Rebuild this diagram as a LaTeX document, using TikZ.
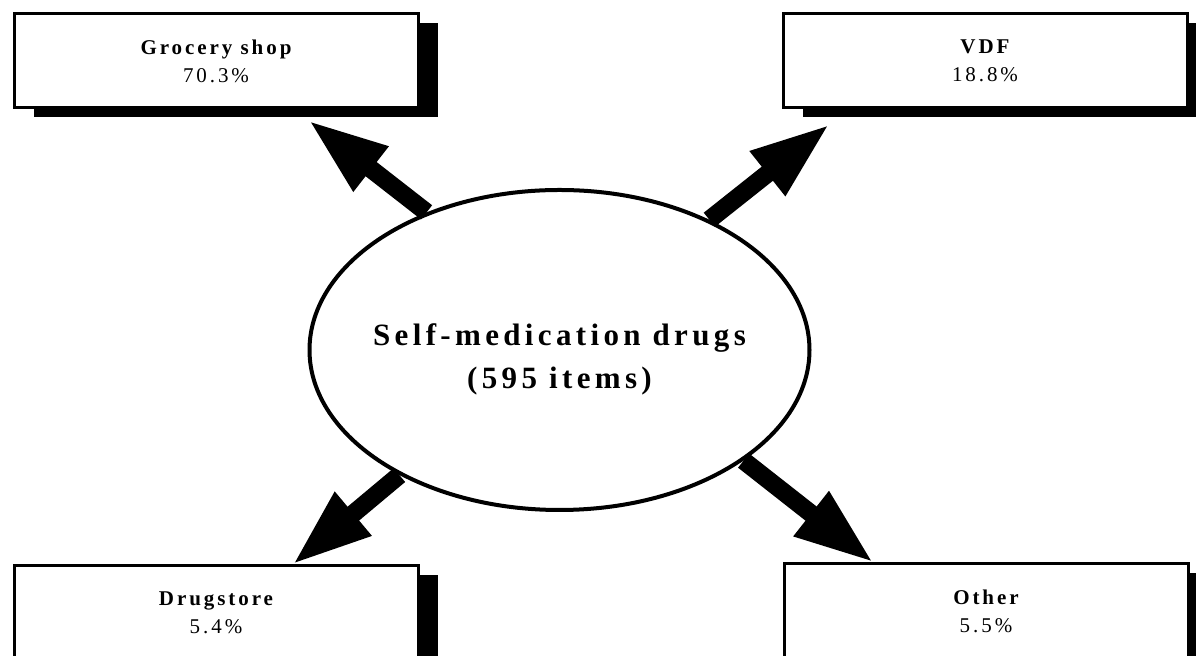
\documentclass[tikz,border=0pt]{standalone}
\usepackage{fontspec}
\setmainfont{Liberation Serif}
\newfontfamily\spaced[LetterSpace=14]{Liberation Serif}
\usetikzlibrary{shapes.geometric, arrows.meta, shadows}
\tikzset{
	outlet/.style={draw, line width=1.5pt, fill=white, minimum width=202pt, minimum height=47pt,
		inner sep=0pt, align=center, font=\spaced\fontsize{10.5}{14}\selectfont,
		drop shadow={shadow xshift=10pt, shadow yshift=-4.5pt, fill=black, opacity=1}},
	drugs/.style={ellipse, draw, line width=2pt, fill=white, minimum width=250pt, minimum height=160pt,
		inner xsep=-15pt, inner ysep=0pt, align=center, font=\spaced\fontsize{15.5}{21.5}\selectfont\bfseries},
	fat/.style={line width=9pt, -{Triangle[length=40pt, width=26pt]}}
}

\begin{document}
\begin{tikzpicture}[x=0.5pt, y=-0.5pt]
		\useasboundingbox (0,0) rectangle (1196,656);
		\clip (0,0) rectangle (1196,656);
		% Outlets
		\node[outlet] (groc) at (216,61) {{\bfseries Grocery shop}\\70.3\%};
		\node[outlet] (vdf) at (985,61) {{\bfseries VDF}\\18.8\%};
		\node[outlet] (drug) at (216,613) {{\bfseries Drugstore}\\5.4\%};
		\node[outlet] (other) at (986,611) {{\bfseries Other}\\5.5\%};
		% Centre
		\node[drugs] (self) at (559.5,350) {\rule{0pt}{20pt}Self-medication drugs\\(595 items)};
		% Arrow tips
		\coordinate (gtip) at (308,120);
		\coordinate (vtip) at (830,124);
		\coordinate (dtip) at (292,565);
		\coordinate (otip) at (874,563);
		% Draw arrows
		\draw[fat] (self.134) -- (gtip);
		\draw[fat] (self.41) -- (vtip);
		\draw[fat] (self.218) -- (dtip);
		\draw[fat] (self.329) -- (otip);
	\end{tikzpicture}
\end{document}
